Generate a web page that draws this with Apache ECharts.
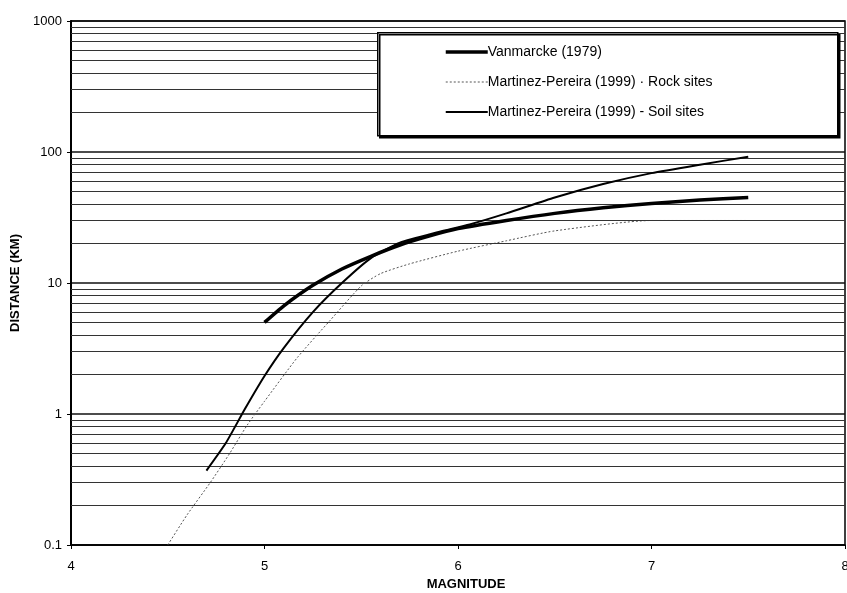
<!DOCTYPE html>
<html><head><meta charset="utf-8">
<script src="https://cdn.jsdelivr.net/npm/echarts@6/dist/echarts.min.js"></script>
<style>html,body{margin:0;padding:0;background:#fff}#c{width:847px;height:593px}</style>
</head><body><div id="c"></div>
<script>
const vanMag  = [5.0, 5.1, 5.25, 5.4, 5.55, 5.7, 5.85, 6.0, 6.25, 6.5, 6.75, 7.0, 7.25, 7.5];
const vanDist = [5, 6.7, 9.6, 12.8, 16, 19.5, 22.8, 26, 30, 34, 37.5, 40.5, 43, 45];
const soilMag  = [4.7, 4.8, 4.9, 5.0, 5.1, 5.25, 5.4, 5.55, 5.7, 5.9, 6.06, 6.25, 6.5, 6.75, 7.0, 7.25, 7.5];
const soilDist = [0.37, 0.6, 1.1, 1.95, 3.2, 6.0, 10, 15.5, 20.3, 24.5, 28, 34, 45, 57, 69, 80, 92];
const rockMag  = [4.5, 4.6, 4.72, 4.82, 4.91, 5.0, 5.17, 5.34, 5.5, 5.6, 5.75, 6.0, 6.25, 6.5, 7.0, 7.5];
const rockDist = [0.1, 0.17, 0.3, 0.5, 0.82, 1.25, 2.7, 5.2, 9.5, 11.8, 14, 17.5, 21, 25, 30, 30];
const minorGridValues = [0.2,0.3,0.4,0.5,0.6,0.7,0.8,0.9, 2,3,4,5,6,7,8,9, 20,30,40,50,60,70,80,90, 200,300,400,500,600,700,800,900];
const seriesNames = ['Vanmarcke (1979)', 'Martinez-Pereira (1999) · Rock sites', 'Martinez-Pereira (1999) - Soil sites'];
const xTicks = {min: 4, max: 8, interval: 1};
const yRange = {min: 0.1, max: 1000};

const zip = (a, b) => a.map((v, i) => [v, b[i]]);
const font = '"Liberation Sans", Arial, sans-serif';
const styles = [
  {color: '#000', width: 3.5, type: 'solid'},
  {color: '#555', width: 1, type: [2, 2]},
  {color: '#000', width: 2, type: 'solid'}
];
const chart = echarts.init(document.getElementById('c'), null, {renderer: 'canvas'});
chart.setOption({
  backgroundColor: '#fff',
  animation: false,
  grid: {left: 71, right: 2, top: 21, bottom: 48, show: true, borderColor: '#000', borderWidth: 1.5,
         backgroundColor: 'transparent', outerBoundsMode: 'none', containLabel: false},
  xAxis: {
    type: 'value', min: xTicks.min, max: xTicks.max, interval: xTicks.interval,
    name: 'MAGNITUDE', nameLocation: 'middle', nameGap: 28,
    nameTextStyle: {fontFamily: font, fontWeight: 'bold', fontSize: 13, color: '#000', padding: [0,0,0,16]},
    axisLine: {show: true, lineStyle: {color: '#000', width: 1.5}},
    axisTick: {show: true, length: 4, lineStyle: {color: '#000'}},
    axisLabel: {fontFamily: font, fontSize: 13, color: '#000', margin: 15, hideOverlap: false},
    splitLine: {show: false}
  },
  yAxis: {
    type: 'log', logBase: 10, min: yRange.min, max: yRange.max,
    name: 'DISTANCE (KM)', nameLocation: 'middle', nameGap: 48,
    nameTextStyle: {fontFamily: font, fontWeight: 'bold', fontSize: 13, color: '#000'},
    axisLine: {show: true, lineStyle: {color: '#000', width: 2}},
    axisTick: {show: true, length: 4, lineStyle: {color: '#000'}},
    axisLabel: {fontFamily: font, fontSize: 13, color: '#000', margin: 9, formatter: v => String(v)},
    splitLine: {show: true, lineStyle: {color: '#111', width: 1.6}}
  },
  legend: {
    orient: 'vertical', left: 444, top: 45, itemGap: 16, itemWidth: 42, itemHeight: 14,
    padding: 0,
    data: seriesNames.map((n, i) => ({name: n, lineStyle: {width: styles[i].width, color: styles[i].color, type: styles[i].type}})),
    itemStyle: {opacity: 0},
    textStyle: {fontFamily: font, fontSize: 14, color: '#000', padding: [0,0,0,-5]},
    z: 20
  },
  graphic: [{
    type: 'rect', left: 377, top: 32, z: 10,
    shape: {width: 460, height: 103},
    style: {fill: '#fff', stroke: '#000', lineWidth: 1.5, shadowColor: '#000', shadowOffsetX: 2, shadowOffsetY: 2, shadowBlur: 0}
  }],
  series: [
    {
      name: 'grid', type: 'line', data: [[4, 1]], symbol: 'none', lineStyle: {opacity: 0}, z: 1, silent: true,
      markLine: {
        silent: true, symbol: 'none', label: {show: false}, animation: false,
        lineStyle: {color: '#333', width: 1, type: 'solid'},
        data: minorGridValues.map(v => ({yAxis: v}))
      }
    },
    {name: seriesNames[0], type: 'line', data: zip(vanMag, vanDist), symbol: 'none', smooth: 0.2, z: 5,
     lineStyle: styles[0], itemStyle: {color: styles[0].color}},
    {name: seriesNames[1], type: 'line', data: zip(rockMag, rockDist), symbol: 'none', smooth: 0.2, z: 4,
     lineStyle: styles[1], itemStyle: {color: styles[1].color}},
    {name: seriesNames[2], type: 'line', data: zip(soilMag, soilDist), symbol: 'none', smooth: 0.2, z: 5,
     lineStyle: styles[2], itemStyle: {color: styles[2].color}}
  ]
});
</script></body></html>
